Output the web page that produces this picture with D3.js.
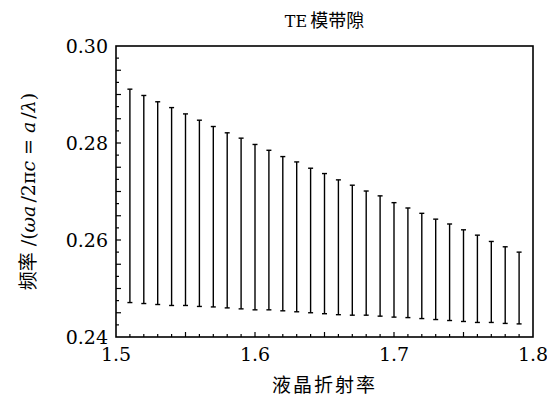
<!DOCTYPE html>
<html>
<head>
<meta charset="utf-8">
<script src="https://cdn.jsdelivr.net/npm/d3@7"></script>
<style>
  body { margin: 0; background: #fff; }
  text { fill: #000; }
</style>
</head>
<body>
<div id="viz"></div>
<script>
// refractive index of the liquid crystal
const nIndex = [1.51, 1.52, 1.53, 1.54, 1.55, 1.56, 1.57, 1.58, 1.59, 1.60,
  1.61, 1.62, 1.63, 1.64, 1.65, 1.66, 1.67, 1.68, 1.69, 1.70,
  1.71, 1.72, 1.73, 1.74, 1.75, 1.76, 1.77, 1.78, 1.79];
// upper edge of the gap
const gapTop = [0.2911, 0.2898, 0.2885, 0.2873, 0.2860, 0.2847, 0.2834, 0.2821, 0.2810, 0.2797,
  0.2785, 0.2772, 0.2761, 0.2748, 0.2737, 0.2724, 0.2713, 0.2701, 0.2691, 0.2677,
  0.2666, 0.2655, 0.2643, 0.2633, 0.2621, 0.2610, 0.2597, 0.2586, 0.2575];
// lower edge of the gap
const gapBottom = [0.2471, 0.2469, 0.2467, 0.2465, 0.2465, 0.2463, 0.2462, 0.2460, 0.2458, 0.2456,
  0.2456, 0.2454, 0.2452, 0.2450, 0.2448, 0.2446, 0.2445, 0.2445, 0.2443, 0.2441,
  0.2440, 0.2438, 0.2436, 0.2434, 0.2432, 0.2430, 0.2430, 0.2428, 0.2427];

const xTicks = [1.5, 1.6, 1.7, 1.8];
const yTicks = [0.24, 0.26, 0.28, 0.30];

const width = 547;
const height = 397;
const margin = { top: 46, right: 14, bottom: 60, left: 116 };
const serif = '"DejaVu Serif", serif';
const cjk = '"Noto Sans CJK SC", sans-serif';

const svg = d3.select('#viz').append('svg')
  .attr('width', width)
  .attr('height', height);

const x = d3.scaleLinear().domain([1.5, 1.8]).range([margin.left, width - margin.right]);
const y = d3.scaleLinear().domain([0.24, 0.30]).range([height - margin.bottom, margin.top]);

// minor ticks, pointing inwards
const xMinor = d3.range(1.51, 1.795, 0.01);
svg.append('g')
  .selectAll('line')
  .data(xMinor)
  .join('line')
  .attr('x1', d => x(d)).attr('x2', d => x(d))
  .attr('y1', y(0.24))
  .attr('y2', (d, i) => y(0.24) - ((i + 1) % 5 === 0 ? 5 : 3))
  .attr('stroke', '#000')
  .attr('stroke-width', 1.2);

const yMinor = d3.range(1, 24).map(i => 0.24 + i * 0.0025);
svg.append('g')
  .selectAll('line')
  .data(yMinor)
  .join('line')
  .attr('y1', d => y(d)).attr('y2', d => y(d))
  .attr('x1', x(1.5))
  .attr('x2', (d, i) => x(1.5) + ((i + 1) % 2 === 0 ? 5 : 3))
  .attr('stroke', '#000')
  .attr('stroke-width', 1.2);

// gap bars
const data = nIndex.map((n, i) => ({ n: n, top: gapTop[i], bottom: gapBottom[i] }));
const bars = svg.append('g').attr('stroke', '#000').attr('stroke-width', 1.4);
bars.selectAll('.stem')
  .data(data)
  .join('line')
  .attr('class', 'stem')
  .attr('x1', d => x(d.n)).attr('x2', d => x(d.n))
  .attr('y1', d => y(d.top)).attr('y2', d => y(d.bottom));
bars.selectAll('.capTop')
  .data(data)
  .join('line')
  .attr('class', 'capTop')
  .attr('x1', d => x(d.n) - 2.5).attr('x2', d => x(d.n) + 2.5)
  .attr('y1', d => y(d.top)).attr('y2', d => y(d.top));
bars.selectAll('.capBottom')
  .data(data)
  .join('line')
  .attr('class', 'capBottom')
  .attr('x1', d => x(d.n) - 2.5).attr('x2', d => x(d.n) + 2.5)
  .attr('y1', d => y(d.bottom)).attr('y2', d => y(d.bottom));

// frame
svg.append('rect')
  .attr('x', x(1.5)).attr('y', y(0.30))
  .attr('width', x(1.8) - x(1.5))
  .attr('height', y(0.24) - y(0.30))
  .attr('fill', 'none')
  .attr('stroke', '#000')
  .attr('stroke-width', 1.6);

// tick labels
svg.append('g')
  .selectAll('text')
  .data(xTicks)
  .join('text')
  .attr('x', d => x(d))
  .attr('y', y(0.24) + 24)
  .attr('text-anchor', 'middle')
  .style('font-family', serif)
  .style('font-size', '19px')
  .text(d => d.toFixed(1));

svg.append('g')
  .selectAll('text')
  .data(yTicks)
  .join('text')
  .attr('x', x(1.5) - 8)
  .attr('y', d => y(d) + 7)
  .attr('text-anchor', 'end')
  .style('font-family', serif)
  .style('font-size', '19px')
  .text(d => d.toFixed(2));

// title
svg.append('text')
  .attr('x', (x(1.5) + x(1.8)) / 2)
  .attr('y', 27)
  .attr('text-anchor', 'middle')
  .style('font-size', '18px')
  .call(t => {
    t.append('tspan').style('font-family', serif).style('font-size', '16px').text('TE');
    t.append('tspan').attr('dx', 3).style('font-family', cjk).text('模带隙');
  });

// x label
svg.append('text')
  .attr('x', (x(1.5) + x(1.8)) / 2)
  .attr('y', 392)
  .attr('text-anchor', 'middle')
  .style('font-family', cjk)
  .style('font-size', '19px')
  .style('letter-spacing', '2px')
  .text('液晶折射率');

// y label
const yl = svg.append('text')
  .attr('transform', 'translate(35,' + ((y(0.24) + y(0.30)) / 2) + ') rotate(-90)')
  .attr('text-anchor', 'middle')
  .style('font-family', serif)
  .style('font-size', '19px');
yl.append('tspan').style('font-family', cjk).style('font-size', '19px').text('频率');
yl.append('tspan').attr('dx', 6).text('/(');
yl.append('tspan').style('font-style', 'italic').text('ωa');
yl.append('tspan').attr('dx', 3).text('/2π');
yl.append('tspan').style('font-style', 'italic').text('c');
yl.append('tspan').text(' = ');
yl.append('tspan').style('font-style', 'italic').text('a');
yl.append('tspan').attr('dx', 3).text('/');
yl.append('tspan').style('font-style', 'italic').text('λ');
yl.append('tspan').text(')');
</script>
</body>
</html>
